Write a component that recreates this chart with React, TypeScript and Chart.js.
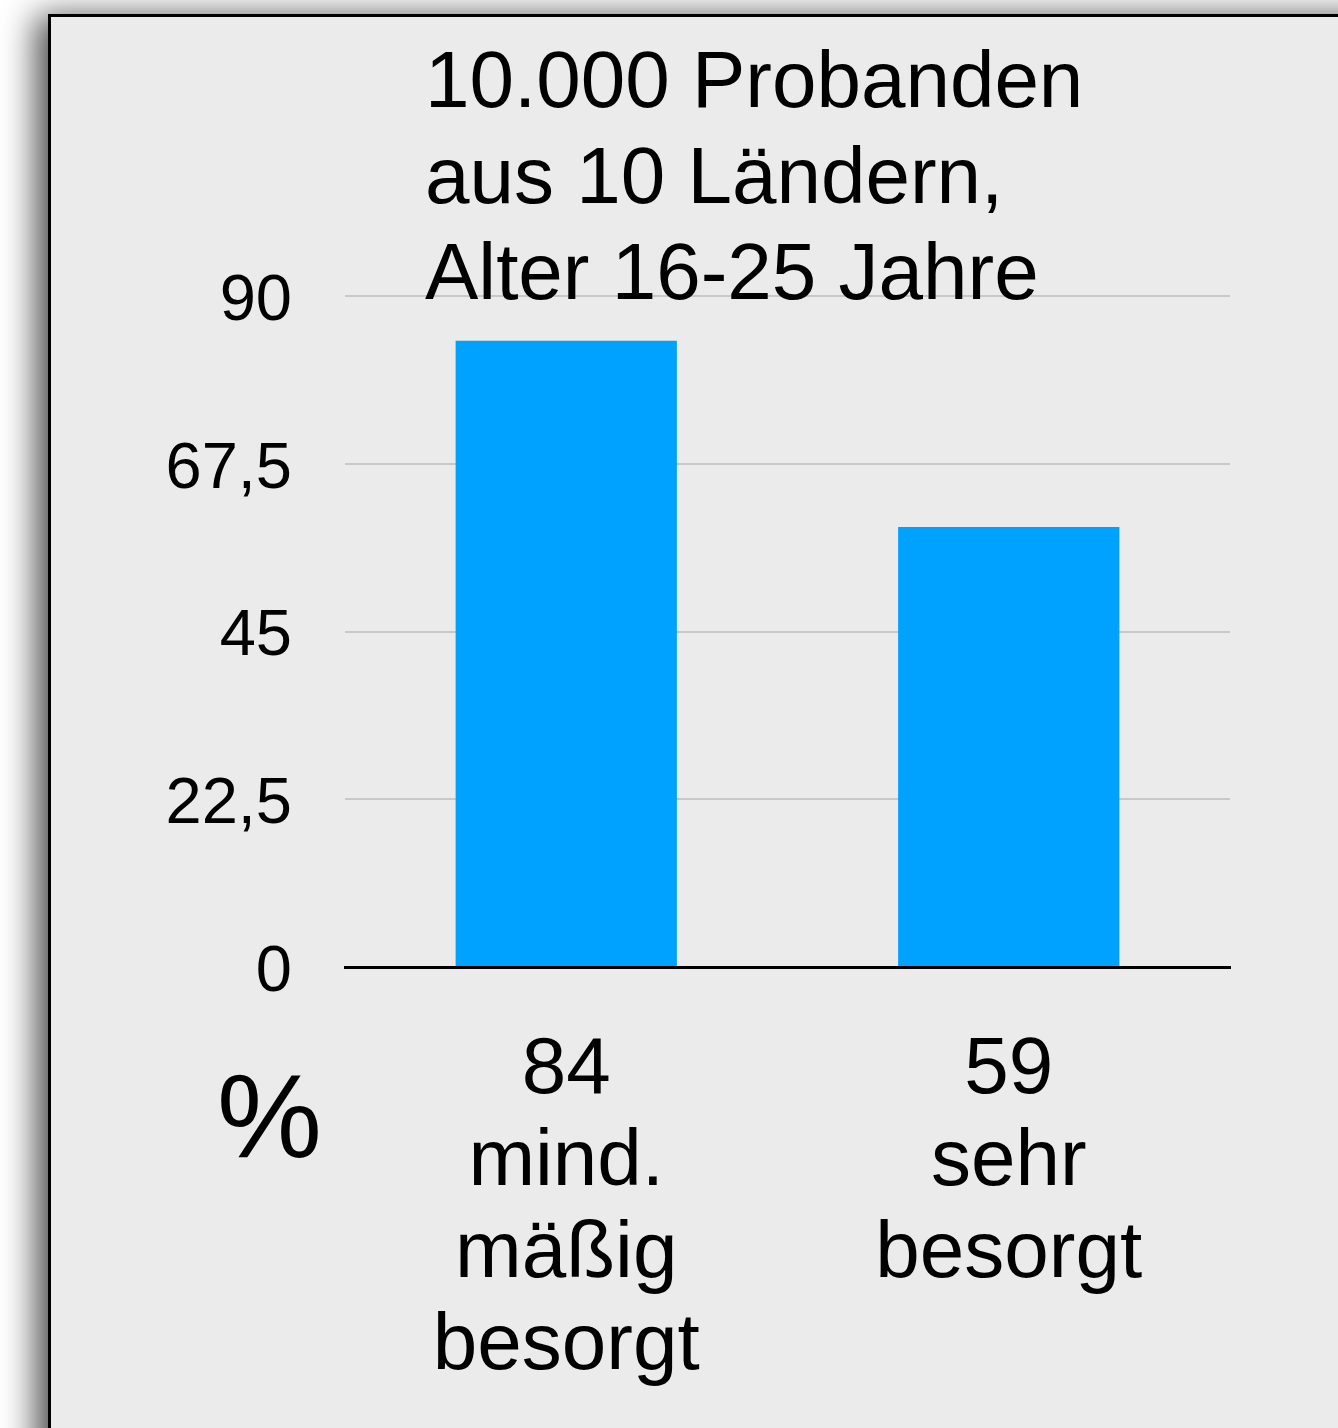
import React, { useEffect, useRef } from "react";
import { Chart, registerables } from "chart.js";

Chart.register(...registerables);

// ---- data ----
const categories: string[][] = [
  ["mind.", "mäßig", "besorgt"],
  ["sehr", "besorgt"],
];
const values: number[] = [84, 59];
const yTicks: number[] = [0, 22.5, 45, 67.5, 90];
const titleLines: string[] = ["10.000 Probanden", "aus 10 Ländern,", "Alter 16-25 Jahre"];
const unitLabel = "%";

const FONT = '"Liberation Sans", Arial, Helvetica, sans-serif';
const BAR_COLOR = "#00a2ff";

export default function App() {
  const ref = useRef<HTMLCanvasElement>(null);

  useEffect(() => {
    const chart = new Chart(ref.current as HTMLCanvasElement, {
      type: "bar",
      data: {
        labels: categories.map((c, i) => [String(values[i]), ...c]),
        datasets: [
          {
            data: values,
            backgroundColor: BAR_COLOR,
            barPercentage: 0.5,
            categoryPercentage: 1,
          },
        ],
      },
      options: {
        responsive: false,
        animation: false,
        layout: { padding: { top: 296, right: 108, left: 0, bottom: 0 } },
        plugins: {
          legend: { display: false },
          tooltip: { enabled: false },
          title: { display: false },
        },
        scales: {
          x: {
            z: 1,
            grid: { display: false },
            border: { display: true, color: "#000", width: 3 },
            ticks: {
              color: "#000",
              padding: 50,
              maxRotation: 0,
              autoSkip: false,
              font: { family: FONT, size: 80, lineHeight: 1.15 },
            },
            afterFit: (s: any) => {
              s.height = 461;
            },
          },
          y: {
            min: 0,
            max: 90,
            afterBuildTicks: (s: any) => {
              s.ticks = yTicks.map((v) => ({ value: v }));
            },
            grid: { color: "#c8c8c8", lineWidth: 2, drawTicks: false },
            border: { display: false },
            ticks: {
              color: "#000",
              padding: 53,
              labelOffset: 6,
              font: { family: FONT, size: 65 },
              callback: (v: any) => String(v).replace(".", ","),
            },
            afterFit: (s: any) => {
              s.width = 345;
            },
          },
        },
      },
    } as any);
    return () => chart.destroy();
  }, []);

  return (
    <div
      style={{
        position: "absolute",
        left: 0,
        top: 0,
        width: 1338,
        height: 1428,
        overflow: "hidden",
        background: "#ffffff",
        fontFamily: FONT,
      }}
    >
      <div
        style={{
          position: "absolute",
          left: 48,
          top: 14,
          width: 1400,
          height: 1500,
          border: "3px solid #000",
          background: "#ebebeb",
          boxShadow: "-12px 2px 32px rgba(0,0,0,0.7)",
        }}
      />
      <canvas
        ref={ref}
        width={1338}
        height={1428}
        style={{ position: "absolute", left: 0, top: 0, width: 1338, height: 1428 }}
      />
      <div
        style={{
          position: "absolute",
          left: 425,
          top: 32,
          fontSize: 80,
          lineHeight: "96px",
          color: "#000",
          whiteSpace: "pre",
        }}
      >
        {titleLines.map((l, i) => (
          <div key={i}>{l}</div>
        ))}
      </div>
      <div
        style={{
          position: "absolute",
          left: 217,
          top: 1057,
          fontSize: 118,
          lineHeight: "118px",
          color: "#000",
        }}
      >
        {unitLabel}
      </div>
    </div>
  );
}
